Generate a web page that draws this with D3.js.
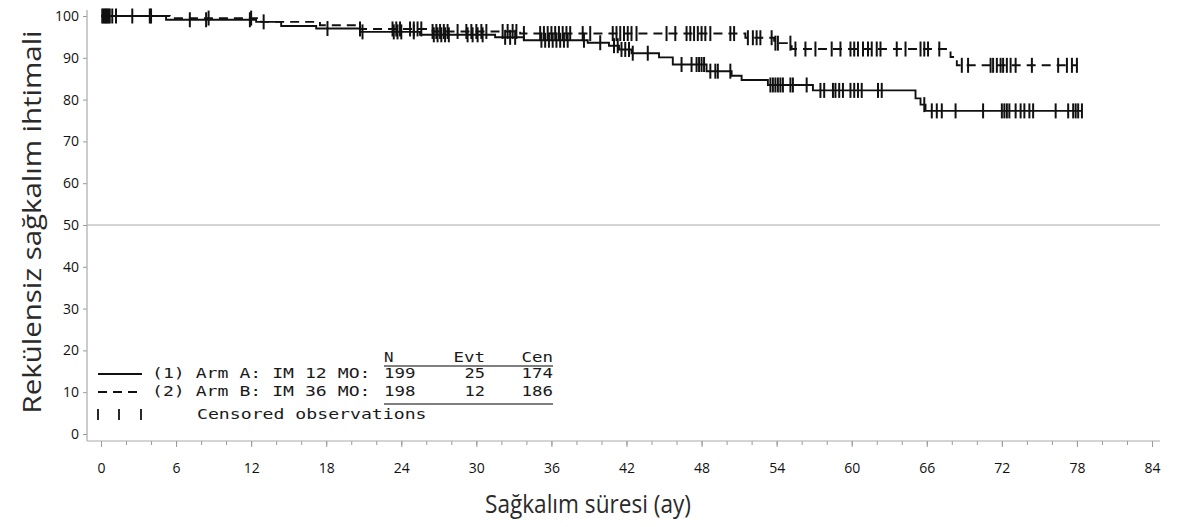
<!DOCTYPE html>
<html>
<head>
<meta charset="utf-8">
<script src="https://cdn.jsdelivr.net/npm/d3@7"></script>
<style>
  body { margin: 0; background: #fff; }
  svg { display: block; }
</style>
</head>
<body>
<svg id="chart" width="1187" height="527"></svg>
<script>
// step times (months) and survival (%) after each step
const armATimes = [0, 5.2, 12.4, 14.4, 17.2, 20.7, 25.5, 31.5, 33.8, 38.9, 40.6, 41.4, 42.4, 44.6, 45.7, 48.4, 50.4, 51.2, 53.3, 56.9, 65.1, 65.5, 65.9];
const armASurv  = [100, 99.1, 98.6, 97.6, 97.0, 96.2, 95.5, 94.9, 94.2, 93.6, 92.9, 92.0, 91.1, 90.1, 88.4, 86.8, 85.7, 84.7, 83.5, 82.2, 80.3, 78.8, 77.3];
const armAEnd = 78.4;

const armBTimes = [0, 5.5, 12.8, 17.5, 20.7, 26.5, 33.5, 51.5, 53.8, 55.2, 67.9, 68.4];
const armBSurv  = [100, 99.5, 98.6, 97.8, 96.9, 96.3, 95.8, 94.8, 93.5, 92.1, 90.2, 88.2];
const armBEnd = 78.0;

// censored observations (months)
const armACensored = [0.1, 0.3, 0.5, 0.7, 1.2, 2.5, 3.9, 7.1, 8.4, 11.9, 18.1, 20.9,
  23.4, 23.7, 24.0, 25.0, 26.6, 26.9, 27.2, 27.5, 27.8, 29.3, 29.7, 30.1, 30.5, 32.3, 32.7, 33.1,
  35.2, 35.5, 35.8, 36.1, 36.4, 36.7, 37.0, 37.3, 38.6, 39.9, 41.0, 41.3, 41.6, 41.9, 42.2, 42.5, 43.7,
  46.4, 47.2, 47.6, 47.8, 48.0, 48.2, 48.7, 49.1, 49.3, 50.3, 53.5, 53.7, 53.9, 54.1, 54.3, 54.5,
  55.1, 55.3, 56.4, 57.5, 57.8, 58.5, 58.7, 59.0, 59.3, 59.9, 60.2, 60.5, 60.8, 62.1, 62.4,
  65.8, 66.4, 66.8, 67.2, 68.3, 70.5, 72.0, 72.2, 72.4, 72.6, 73.1, 73.5, 73.8, 74.2, 74.5,
  76.3, 77.3, 77.7, 77.9, 78.1, 78.4];
const armBCensored = [0.2, 0.4, 0.6, 0.9, 4.0, 8.6, 12.0, 13.0, 20.7,
  23.3, 23.6, 23.9, 24.7, 25.0, 25.3, 25.6, 26.5, 26.8, 27.1, 27.4, 27.7, 28.5, 29.2, 29.6, 30.0,
  30.4, 30.8, 32.1, 32.5, 32.9, 33.2, 33.8, 35.1, 35.4, 35.7, 36.0, 36.3, 36.6, 36.9, 37.2, 37.5,
  38.5, 39.1, 40.9, 41.2, 41.5, 41.8, 42.1, 42.4, 42.8, 45.2,
  45.9, 46.8, 47.1, 47.4, 47.7, 48.0, 48.3, 48.7, 50.3, 50.6, 51.7, 52.1, 52.4, 52.7, 53.6, 53.9,
  54.1, 55.1, 55.5, 56.3, 57.1, 58.4, 59.1, 59.9, 60.2, 60.5, 60.9, 61.3, 61.6, 62.0, 62.3, 63.6,
  64.3, 65.5, 65.8, 66.1, 67.0, 68.8, 69.3, 71.1, 71.3, 71.6, 71.9, 72.1, 72.4, 72.7, 73.1, 74.4,
  76.5, 77.2, 77.6, 78.0];

const xTicks = d3.range(0, 85, 6);
const xMinorTicks = d3.range(0, 85, 2);
const yTicks = d3.range(0, 101, 10);

const legendLabels = ["(1) Arm A: IM 12 MO:", "(2) Arm B: IM 36 MO:"];
const legendN   = [199, 198];
const legendEvt = [25, 12];
const legendCen = [174, 186];

const svg = d3.select("#chart");
const x = d3.scaleLinear().domain([0, 84]).range([101, 1152]);
const y = d3.scaleLinear().domain([0, 100]).range([434, 16]);
const axisY = 441, axisX = 87;

// axes
const gx = svg.append("g").attr("transform", `translate(0,${axisY})`)
  .call(d3.axisBottom(x).tickValues(xMinorTicks).tickSize(4).tickFormat(""));
gx.select(".domain").remove();
gx.selectAll("line").attr("stroke", "#999");
const gx2 = svg.append("g").attr("transform", `translate(0,${axisY})`)
  .call(d3.axisBottom(x).tickValues(xTicks).tickSize(6).tickPadding(16));
gx2.select(".domain").remove();
gx2.selectAll("line").attr("stroke", "#999");
gx2.selectAll("text").attr("font-family", "Open Sans").attr("font-size", 14)
  .attr("font-weight", 500).attr("fill", "#111");

const gy = svg.append("g").attr("transform", `translate(${axisX},0)`)
  .call(d3.axisLeft(y).tickValues(yTicks).tickSize(4).tickPadding(4));
gy.select(".domain").remove();
gy.selectAll("line").attr("stroke", "#999");
gy.selectAll("text").attr("font-family", "Open Sans").attr("font-size", 14)
  .attr("font-weight", 500).attr("fill", "#111");

svg.append("line").attr("x1", axisX).attr("x2", 1160).attr("y1", axisY).attr("y2", axisY)
  .attr("stroke", "#aaa").attr("stroke-width", 1.2);
svg.append("line").attr("x1", axisX).attr("x2", axisX).attr("y1", 10).attr("y2", axisY)
  .attr("stroke", "#aaa").attr("stroke-width", 1.2);

// 50% reference line
svg.append("line").attr("x1", axisX).attr("x2", 1160).attr("y1", y(50)).attr("y2", y(50))
  .attr("stroke", "#aaa").attr("stroke-width", 1.2);

// titles
svg.append("text").attr("transform", "translate(41,222) rotate(-90)")
  .attr("text-anchor", "middle").attr("font-family", "Open Sans").attr("font-size", 25)
  .attr("fill", "#2a2a2a").attr("textLength", 383).attr("lengthAdjust", "spacingAndGlyphs")
  .text("Rekülensiz sağkalım ihtimali");
svg.append("text").attr("x", 588).attr("y", 513)
  .attr("text-anchor", "middle").attr("font-family", "Open Sans").attr("font-size", 26)
  .attr("fill", "#2a2a2a").attr("textLength", 206).attr("lengthAdjust", "spacingAndGlyphs")
  .text("Sağkalım süresi (ay)");

// curves
function survAt(times, surv, t) {
  let s = surv[0];
  for (let i = 0; i < times.length; i++) if (times[i] <= t) s = surv[i];
  return s;
}
const stepLine = d3.line().x(d => x(d[0])).y(d => y(d[1])).curve(d3.curveStepAfter);

function drawArm(times, surv, end, censored, dash) {
  const pts = times.map((t, i) => [t, surv[i]]);
  pts.push([end, surv[surv.length - 1]]);
  svg.append("path").attr("d", stepLine(pts)).attr("fill", "none")
    .attr("stroke", "#111").attr("stroke-width", 1.9)
    .attr("stroke-dasharray", dash);
  svg.append("g").selectAll("line").data(censored).join("line")
    .attr("x1", d => x(d)).attr("x2", d => x(d))
    .attr("y1", d => y(survAt(times, surv, d)) - 7.5)
    .attr("y2", d => y(survAt(times, surv, d)) + 7.5)
    .attr("stroke", "#111").attr("stroke-width", 2);
}
drawArm(armBTimes, armBSurv, armBEnd, armBCensored, "9,6");
drawArm(armATimes, armASurv, armAEnd, armACensored, null);

// legend
const mono = "DejaVu Sans Mono";
const cw = 11; // char width in legend
const lg = svg.append("g").attr("font-family", mono).attr("font-size", 14).attr("fill", "#1a1a1a");
function monoText(str, xx, yy, anchor) {
  lg.append("text").attr("x", xx).attr("y", yy).attr("text-anchor", anchor || "start")
    .attr("textLength", str.length * cw - 1.5).attr("lengthAdjust", "spacingAndGlyphs").text(str);
}
const colN = 384, colEvt = 485, colCen = 553;
monoText("N", colN, 362);
monoText("Evt", colEvt, 362, "end");
monoText("Cen", colCen, 362, "end");
const rowY = [378, 396];
legendLabels.forEach((lab, i) => {
  monoText(lab, 152, rowY[i]);
  monoText(String(legendN[i]), colN, rowY[i]);
  monoText(String(legendEvt[i]), colEvt, rowY[i], "end");
  monoText(String(legendCen[i]), colCen, rowY[i], "end");
});
monoText("Censored observations", 197, 419);
[366, 404].forEach(yy => lg.append("line").attr("x1", colN).attr("x2", colCen)
  .attr("y1", yy).attr("y2", yy).attr("stroke", "#555").attr("stroke-width", 1.5));
lg.append("line").attr("x1", 98).attr("x2", 142).attr("y1", 374).attr("y2", 374)
  .attr("stroke", "#111").attr("stroke-width", 1.8);
lg.append("line").attr("x1", 98).attr("x2", 142).attr("y1", 392).attr("y2", 392)
  .attr("stroke", "#111").attr("stroke-width", 1.8).attr("stroke-dasharray", "9,6");
[98, 119, 141].forEach(xx => lg.append("line").attr("x1", xx).attr("x2", xx)
  .attr("y1", 409).attr("y2", 420).attr("stroke", "#111").attr("stroke-width", 1.8));
</script>
</body>
</html>
